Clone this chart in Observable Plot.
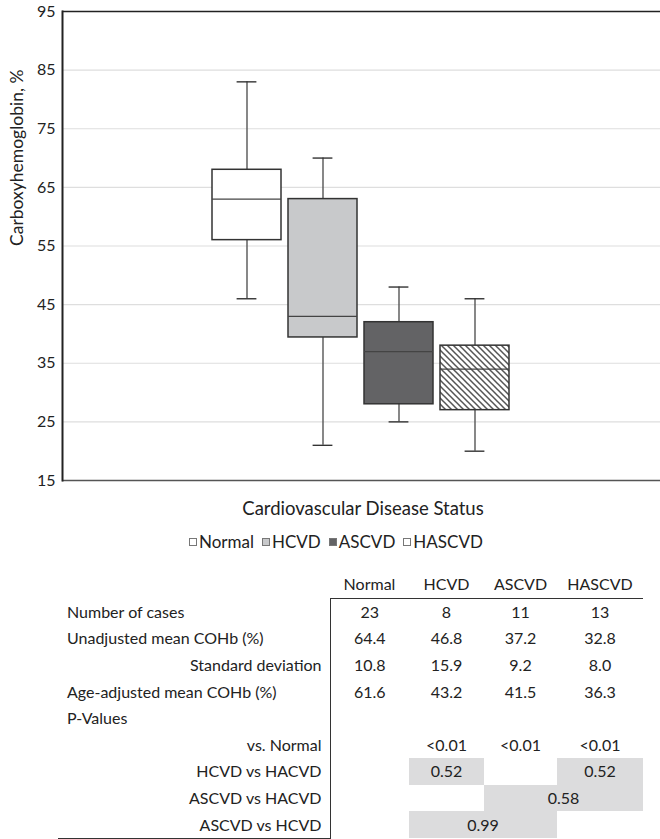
<!DOCTYPE html>
<html>
<head>
<meta charset="utf-8">
<script src="https://cdn.jsdelivr.net/npm/d3@7"></script>
<script src="https://cdn.jsdelivr.net/npm/@observablehq/plot@0.6"></script>
<style>
  html, body { margin: 0; padding: 0; background: #fff; }
  #wrap { position: relative; width: 660px; height: 839px; font-family: Lato, sans-serif; color: #222; }
  #chart { position: absolute; left: 0; top: 0; }
  #xtitle { position: absolute; left: 0; width: 726px; top: 496px; text-align: center; font-size: 18.5px; line-height: 24px; }
  #legend { position: absolute; left: 189px; top: 530px; font-size: 17px; line-height: 24px; white-space: nowrap; }
  #legend .item { display: inline-block; margin-right: 8px; }
  #legend .sw { display: inline-block; width: 6px; height: 6px; border: 1px solid #777; margin-right: 2px; vertical-align: 2px; }
  #tbl { position: absolute; left: 58px; top: 571px; border-collapse: collapse; table-layout: fixed; font-size: 16px; }
  #tbl td { padding: 0; height: 26.6px; line-height: 26px; white-space: nowrap; }
  #tbl td.lab { padding-left: 9px; text-align: left; }
  #tbl td.rlab { padding-right: 8px; text-align: right; }
  #tbl td.num { text-align: center; }
  #tbl td.shade { background: #dcdcdd; }
  #tbl tr.first td.num { border-top: 1px solid #333; }
  #tbl td.c1 { border-left: 1px solid #333; }
  #tbl tr.last td.lab, #tbl tr.last td.rlab { border-bottom: 1px solid #333; }
</style>
</head>
<body>
<div id="wrap">
  <div id="chart"></div>
  <div id="xtitle"></div>
  <div id="legend"></div>
  <table id="tbl"></table>
</div>
<script>
// ---- data ----
const categories = ["Normal", "HCVD", "ASCVD", "HASCVD"];
const whiskerLow = [46, 21, 25, 20];
const quartile1 = [56, 39.4, 28, 27];
const medians = [63, 43, 37, 34];
const quartile3 = [68, 63, 42, 38];
const whiskerHigh = [83, 70, 48, 46];
const yTicks = [15, 25, 35, 45, 55, 65, 75, 85, 95];
const gridTicks = [25, 35, 45, 55, 65, 75, 85];

const xTitle = "Cardiovascular Disease Status";
const yTitle = "Carboxyhemoglobin, %";

const tableHeader = ["Normal", "HCVD", "ASCVD", "HASCVD"];
const nCases = ["23", "8", "11", "13"];
const unadjustedMean = ["64.4", "46.8", "37.2", "32.8"];
const stdDev = ["10.8", "15.9", "9.2", "8.0"];
const ageAdjustedMean = ["61.6", "43.2", "41.5", "36.3"];
const vsNormal = ["", "<0.01", "<0.01", "<0.01"];
const pHcvdHacvd = "0.52";
const pAscvdHacvd = "0.58";
const pAscvdHcvd = "0.99";

// ---- styles ----
const boxFills = ["#ffffff", "#c8c9cb", "#636365", "url(#hatch)"];
const legendFills = ["#ffffff", "#c8c9cb", "#636365", "#ffffff"];

const boxes = categories.map((c, i) => ({
  cat: c, lo: whiskerLow[i], q1: quartile1[i], med: medians[i], q3: quartile3[i], hi: whiskerHigh[i]
}));

const plot = Plot.plot({
  width: 660,
  height: 490,
  marginTop: 11,
  marginBottom: 10,
  marginLeft: 62,
  marginRight: 0,
  style: { fontFamily: "Lato, sans-serif", fontSize: "16px", color: "#222", background: "transparent" },
  x: { domain: categories, paddingInner: 0.09, paddingOuter: 1.979, axis: null },
  y: { domain: [15, 95] },
  color: { type: "ordinal", domain: categories, range: boxFills },
  marks: [
    Plot.gridY(gridTicks, { stroke: "#dedede", strokeOpacity: 1, strokeWidth: 1.2 }),
    Plot.ruleY([15], { stroke: "#555", strokeWidth: 1.5 }),
    Plot.ruleY([95], { stroke: "#222", strokeWidth: 1.5 }),
    Plot.frame({ anchor: "left", stroke: "#222", strokeWidth: 2 }),
    Plot.axisY(yTicks, { tickSize: 0, tickPadding: 7, fontSize: 16, label: null }),
    Plot.text([yTitle], { frameAnchor: "left", rotate: -90, dx: -45, fontSize: 17.5, fill: "#222" }),
    Plot.ruleX(boxes, { x: "cat", y1: "lo", y2: "q1", stroke: "#555", strokeWidth: 1.4 }),
    Plot.ruleX(boxes, { x: "cat", y1: "q3", y2: "hi", stroke: "#555", strokeWidth: 1.4 }),
    Plot.tickY(boxes, { x: "cat", y: "lo", insetLeft: 24.6, insetRight: 24.6, stroke: "#333", strokeWidth: 1.4 }),
    Plot.tickY(boxes, { x: "cat", y: "hi", insetLeft: 24.6, insetRight: 24.6, stroke: "#333", strokeWidth: 1.4 }),
    Plot.barY(boxes, { x: "cat", y1: "q1", y2: "q3", fill: "cat", stroke: "#333", strokeWidth: 1.5 }),
    Plot.tickY(boxes, { x: "cat", y: "med", stroke: "#444", strokeWidth: 1.3 })
  ]
});

// hatch pattern definition
const svg = d3.select(plot);
const defs = svg.insert("defs", ":first-child");
const pat = defs.append("pattern").attr("id", "hatch").attr("patternUnits", "userSpaceOnUse")
  .attr("width", 6).attr("height", 6);
pat.append("rect").attr("width", 6).attr("height", 6).attr("fill", "#fff");
pat.append("path").attr("d", "M-1,-1L7,7M-1,5L1,7M5,-1L7,1")
  .attr("stroke", "#555").attr("stroke-width", 1.5);

document.getElementById("chart").appendChild(plot);
document.getElementById("xtitle").textContent = xTitle;

// legend
const legend = d3.select("#legend");
categories.forEach((c, i) => {
  const it = legend.append("span").attr("class", "item");
  it.append("span").attr("class", "sw").style("background", legendFills[i]);
  it.append("span").text(c);
});

// table
const tbl = d3.select("#tbl");
const cg = tbl.append("colgroup");
[272, 79, 75, 73, 86].forEach(w => cg.append("col").style("width", w + "px"));

function row(label, labelClass, cells, trClass) {
  const tr = tbl.append("tr");
  if (trClass) tr.attr("class", trClass);
  tr.append("td").attr("class", labelClass).text(label);
  cells.forEach((cell, j) => {
    const td = tr.append("td").attr("class", "num" + (j === 0 ? " c1" : "") + (cell.shade ? " shade" : ""));
    if (cell.span) td.attr("colspan", cell.span);
    td.text(cell.text);
  });
}
const plain = arr => arr.map(t => ({ text: t }));

// header
{
  const tr = tbl.append("tr");
  tr.append("td").text("");
  tableHeader.forEach(h => tr.append("td").attr("class", "num hdr").text(h));
}
row("Number of cases", "lab", plain(nCases), "first");
row("Unadjusted mean COHb (%)", "lab", plain(unadjustedMean));
row("Standard deviation", "rlab", plain(stdDev));
row("Age-adjusted mean COHb (%)", "lab", plain(ageAdjustedMean));
row("P-Values", "lab", plain(["", "", "", ""]));
row("vs. Normal", "rlab", plain(vsNormal));
row("HCVD vs HACVD", "rlab", [{ text: "" }, { text: pHcvdHacvd, shade: true }, { text: "" }, { text: pHcvdHacvd, shade: true }]);
row("ASCVD vs HACVD", "rlab", [{ text: "" }, { text: "" }, { text: pAscvdHacvd, shade: true, span: 2 }]);
row("ASCVD vs HCVD", "rlab", [{ text: "" }, { text: pAscvdHcvd, shade: true, span: 2 }, { text: "" }], "last");
</script>
</body>
</html>
